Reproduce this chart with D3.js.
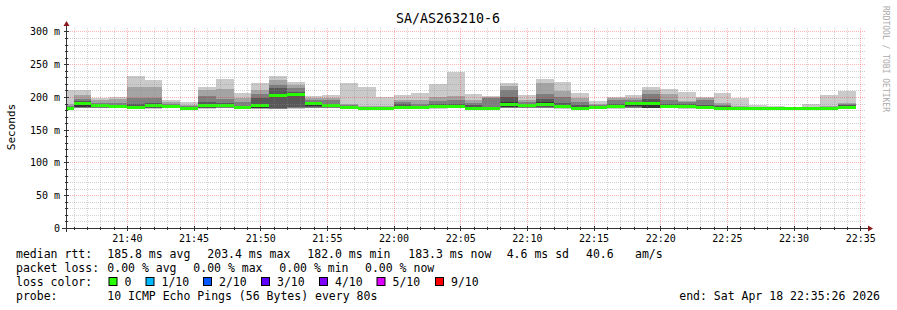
<!DOCTYPE html>
<html lang="en">
<head>
<meta charset="UTF-8">
<title>SA/AS263210-6</title>
<script src="https://cdnjs.cloudflare.com/ajax/libs/d3/7.8.5/d3.min.js"></script>
<style>
  body { margin: 0; background: #fff; }
  svg { display: block; font-family: "DejaVu Sans Mono", monospace; }
</style>
</head>
<body>
<div id="chart"></div>
<script>
// rrd step is 80s, first (partial) step starts before the graph start
const graphStart = "21:35:26";
const graphEnd = "22:35:26";
const firstStep = "21:34:40";
const stepSec = 80;

// median rtt per step (ms)
const medians = [
  183, 190.3, 186.5, 185.3, 184.5, 186.5, 185.5, 182.5, 187.5, 187.5,
  183.5, 186.3, 202, 203.4, 189.5, 187, 184.5, 182, 182.3, 183.2,
  183.8, 185.5, 185.8, 183, 182.6, 188, 186.8, 188, 185.3, 183,
  183.7, 185, 189.5, 190.5, 186, 185.3, 183.2, 182.8, 182.5, 182.4,
  182.3, 182.2, 182.4, 182.5, 183.5
];

// the 10 pings of each step, sorted (ms)
const pings = [
  [181.5, 182, 182, 182.5, 183, 184, 185, 186, 190, 210],
  [182.5, 183, 183.5, 184, 184.5, 191.5, 194, 197, 203.5, 210],
  [182.5, 183, 183.5, 184, 184.5, 187.5, 188.5, 191, 196, 199],
  [182.5, 183, 183.5, 184, 184.2, 186.5, 187.5, 191, 196.5, 200.5],
  [182, 182.5, 183, 183.3, 183.5, 186, 189, 198, 215, 232],
  [182, 182.5, 183, 183.5, 184, 188.5, 191, 198, 215, 226],
  [182.5, 183, 183.5, 184, 184.5, 187, 188, 190, 193, 196],
  [181, 181.2, 181.5, 181.8, 182, 183.5, 184.5, 186, 188, 192],
  [182, 182.5, 183, 183.5, 184, 189.5, 192, 201.5, 211, 215],
  [182.5, 183, 183.5, 184, 185, 189, 191, 197, 212, 227],
  [181.8, 182, 182.2, 182.5, 183, 184.5, 186, 192, 198, 206],
  [182, 182.3, 182.6, 183, 183.5, 190, 198, 205, 211, 221],
  [181.8, 182, 182.3, 182.5, 200, 204, 213, 218, 226, 232],
  [182, 182.5, 183, 184.5, 201, 205, 208, 213, 218, 223],
  [182.5, 183, 183.5, 184, 186, 191, 192.5, 196, 198.5, 201],
  [182.5, 183, 183.5, 184, 185, 188.5, 190, 195, 199, 202.5],
  [182, 182.5, 183, 183.5, 184, 185.5, 186, 187, 190, 221],
  [180.8, 181, 181.3, 181.5, 181.8, 182.5, 183, 184, 186, 215],
  [181, 181.3, 181.5, 181.8, 182, 182.8, 183, 184, 186, 199.5],
  [181.8, 182, 182.2, 182.5, 182.8, 185, 189, 192, 195, 203],
  [181.8, 182, 182.2, 182.5, 183, 185, 186, 190, 196, 206],
  [182, 182.5, 183, 183.5, 184, 187.5, 190, 194, 200, 219.5],
  [182.5, 183, 183.5, 184, 184.5, 187.5, 190, 195, 201, 238.5],
  [181.8, 182, 182.2, 182.5, 182.7, 184, 187, 191, 196, 204],
  [181.4, 181.6, 181.8, 182, 182.3, 183.2, 184, 198, 199.5, 201],
  [182.5, 183, 183.5, 184, 184.5, 193, 200, 210, 217, 221],
  [182.5, 183, 183.5, 184, 185, 188.5, 189.5, 192, 196, 203],
  [182.5, 183, 183.5, 184.5, 185.5, 192, 197, 205, 221, 227],
  [182, 182.5, 183, 183.5, 184, 188, 191, 200, 209, 222.5],
  [181.8, 182, 182.2, 182.4, 182.7, 185, 187, 193, 198, 206],
  [182.2, 182.5, 182.7, 183, 183.2, 184.5, 186, 188, 190, 193.5],
  [182, 182.5, 183, 183.5, 184, 187, 189, 195, 198, 199.5],
  [182.5, 183, 183.5, 184.5, 186, 191.5, 192, 196, 198, 203],
  [182.7, 183, 183.2, 183.3, 183.5, 192.5, 197, 205, 211, 214.5],
  [182.5, 183, 183.5, 184, 184.5, 188, 190, 196, 204, 211.5],
  [182, 182.5, 183, 183.5, 184, 187, 189, 193, 194, 207],
  [181.8, 182, 182.2, 182.5, 182.8, 185, 188, 196, 198.5, 200],
  [181.6, 181.8, 182, 182.3, 182.5, 184, 185.5, 188, 191, 206],
  [181.4, 181.6, 181.8, 182, 182.2, 183, 183.3, 184, 186, 199],
  [181.5, 181.6, 181.8, 182, 182.2, 182.8, 183, 183.5, 184.5, 187.5],
  [181.5, 181.6, 181.8, 182, 182.1, 182.7, 183, 183.3, 184, 186],
  [181.5, 181.6, 181.8, 181.9, 182, 182.5, 182.8, 183, 183.5, 184.5],
  [181.5, 181.6, 181.8, 182, 182.2, 182.8, 183.3, 184, 185, 189],
  [181.5, 181.6, 181.8, 182, 182.2, 182.9, 183.3, 184, 186, 203],
  [182, 182.2, 182.5, 183, 183.5, 186.5, 188, 189.5, 191, 209]
];

const yTicks = [0, 50, 100, 150, 200, 250, 300];
const xTickLabels = ["21:40", "21:45", "21:50", "21:55", "22:00", "22:05",
                     "22:10", "22:15", "22:20", "22:25", "22:30", "22:35"];

const lossLabels = ["0", "1/10", "2/10", "3/10", "4/10", "5/10", "9/10"];
const lossColors = ["#26ff00", "#00b8ff", "#0059ff", "#5e00ff", "#7e00ff", "#dd00ff", "#ff0000"];

const rttStats = ["185.8 ms avg", "203.4 ms max", "182.0 ms min", "183.3 ms now", "4.6 ms sd", "40.6", "am/s"];
const lossStats = ["0.00 % avg", "0.00 % max", "0.00 % min", "0.00 % now"];

const W = 897, H = 310;
const plotL = 66, plotR = 866, plotT = 28, plotB = 228;

const parse = d3.timeParse("%H:%M:%S");
const x = d3.scaleTime().domain([parse(graphStart), parse(graphEnd)]).range([plotL, plotR]);
const y = d3.scaleLinear().domain([0, 305.3]).range([plotB, plotT]);

const svg = d3.select("#chart").append("svg")
  .attr("width", W).attr("height", H);

svg.append("rect").attr("width", W).attr("height", H).attr("fill", "#fff");

svg.append("clipPath").attr("id", "plot")
  .append("rect").attr("x", plotL).attr("y", plotT).attr("width", plotR - plotL).attr("height", plotB - plotT);

// smoke: band i spans ping i .. ping (n-1-i), lighter outside
const shades = [202, 164, 126, 88, 50];
const t0 = parse(firstStep);
const steps = pings.map((p, i) => {
  const a = d3.timeSecond.offset(t0, i * stepSec);
  const b = d3.timeSecond.offset(t0, (i + 1) * stepSec);
  return { x0: x(a), x1: x(b), p: p, med: medians[i] };
});

const g = svg.append("g").attr("clip-path", "url(#plot)").attr("shape-rendering", "crispEdges");

shades.forEach((s, i) => {
  g.selectAll(null).data(steps).enter().append("rect")
    .attr("x", d => d.x0)
    .attr("width", d => d.x1 - d.x0)
    .attr("y", d => y(d.p[9 - i]))
    .attr("height", d => y(d.p[i]) - y(d.p[9 - i]))
    .attr("fill", d3.rgb(s, s, s));
});

// median, 0 loss colour
g.selectAll(null).data(steps).enter().append("rect")
  .attr("x", d => d.x0)
  .attr("width", d => d.x1 - d.x0)
  .attr("y", d => y(d.med) - 1.5)
  .attr("height", 3)
  .attr("fill", lossColors[0]);

// grid
const grid = svg.append("g").attr("shape-rendering", "crispEdges");
const minorY = d3.range(0, 301, 10).filter(v => v % 50 !== 0);
const minutes = d3.timeMinute.every(1).range(x.domain()[0], x.domain()[1]);
const minorX = minutes.filter(t => t.getMinutes() % 5 !== 0);
const majorX = minutes.filter(t => t.getMinutes() % 5 === 0);

grid.selectAll(null).data(minorY).enter().append("line")
  .attr("x1", plotL).attr("x2", plotR)
  .attr("y1", d => Math.round(y(d)) + 0.5).attr("y2", d => Math.round(y(d)) + 0.5)
  .attr("stroke", "rgba(143,143,143,0.4)").attr("stroke-dasharray", "1,1");
grid.selectAll(null).data(minorX).enter().append("line")
  .attr("x1", d => Math.round(x(d)) + 0.5).attr("x2", d => Math.round(x(d)) + 0.5)
  .attr("y1", plotT).attr("y2", plotB)
  .attr("stroke", "rgba(143,143,143,0.4)").attr("stroke-dasharray", "1,1");
grid.selectAll(null).data(yTicks.slice(1)).enter().append("line")
  .attr("x1", plotL).attr("x2", plotR)
  .attr("y1", d => Math.round(y(d)) + 0.5).attr("y2", d => Math.round(y(d)) + 0.5)
  .attr("stroke", "rgba(255,0,0,0.3)").attr("stroke-dasharray", "1,1");
grid.selectAll(null).data(majorX).enter().append("line")
  .attr("x1", d => Math.round(x(d)) + 0.5).attr("x2", d => Math.round(x(d)) + 0.5)
  .attr("y1", plotT).attr("y2", plotB)
  .attr("stroke", "rgba(255,0,0,0.3)").attr("stroke-dasharray", "1,1");

// axes
const axisColor = "#333";
const ax = svg.append("g").attr("shape-rendering", "crispEdges").attr("stroke", axisColor);
ax.append("line").attr("x1", plotL - 4).attr("x2", plotR + 4).attr("y1", plotB + 0.5).attr("y2", plotB + 0.5);
ax.append("line").attr("x1", plotL + 0.5).attr("x2", plotL + 0.5).attr("y1", plotB + 4).attr("y2", plotT - 3);
ax.selectAll(null).data(minorY).enter().append("line")
  .attr("x1", plotL - 1).attr("x2", plotL + 2)
  .attr("y1", d => Math.round(y(d)) + 0.5).attr("y2", d => Math.round(y(d)) + 0.5);
ax.selectAll(null).data(yTicks).enter().append("line")
  .attr("x1", plotL - 2).attr("x2", plotL + 3)
  .attr("y1", d => Math.round(y(d)) + 0.5).attr("y2", d => Math.round(y(d)) + 0.5);
ax.selectAll(null).data(minorX).enter().append("line")
  .attr("x1", d => Math.round(x(d)) + 0.5).attr("x2", d => Math.round(x(d)) + 0.5)
  .attr("y1", plotB - 1).attr("y2", plotB + 2);
ax.selectAll(null).data(majorX).enter().append("line")
  .attr("x1", d => Math.round(x(d)) + 0.5).attr("x2", d => Math.round(x(d)) + 0.5)
  .attr("y1", plotB - 2).attr("y2", plotB + 3);

const arrowColor = "#8b1a1a";
svg.append("path")
  .attr("d", `M${plotL - 2.5},${plotT - 2}L${plotL + 3.5},${plotT - 2}L${plotL + 0.5},${plotT - 7}Z`)
  .attr("fill", arrowColor);
svg.append("path")
  .attr("d", `M${plotR + 2},${plotB - 2.5}L${plotR + 2},${plotB + 3.5}L${plotR + 7},${plotB + 0.5}Z`)
  .attr("fill", arrowColor);

// tick labels
svg.selectAll(null).data(yTicks).enter().append("text")
  .attr("x", 60).attr("y", d => y(d) + 4)
  .attr("text-anchor", "end").attr("font-size", "10px")
  .text(d => d === 0 ? "0" : d + " m");

svg.selectAll(null).data(xTickLabels).enter().append("text")
  .attr("x", d => x(parse(d + ":00")) + 0.5).attr("y", 242)
  .attr("text-anchor", "middle").attr("font-size", "10px")
  .text(d => d);

// title, axis label, watermark
svg.append("text").attr("x", 448).attr("y", 23).attr("text-anchor", "middle")
  .attr("font-size", "13.3px").text("SA/AS263210-6");
svg.append("text").attr("transform", "translate(15,127) rotate(-90)")
  .attr("text-anchor", "middle").attr("font-size", "11px").text("Seconds");
svg.append("text").attr("transform", "translate(883,59) rotate(90)")
  .attr("text-anchor", "middle").attr("font-size", "8px").attr("fill", "#aaa")
  .text("RRDTOOL / TOBI OETIKER");

// legend
const fs = "11.5px";
const leg = svg.append("g").attr("font-size", fs).attr("xml:space", "preserve");
const row = [258, 272, 286, 300];
leg.append("text").attr("x", 16).attr("y", row[0]).text("median rtt:");
[107.3, 207.3, 307.3, 408.3, 506.7, 586, 635].forEach((px, i) =>
  leg.append("text").attr("x", px).attr("y", row[0]).text(rttStats[i]));
leg.append("text").attr("x", 16).attr("y", row[1]).text("packet loss:");
[107.3, 193.3, 279.3, 365].forEach((px, i) =>
  leg.append("text").attr("x", px).attr("y", row[1]).text(lossStats[i]));
leg.append("text").attr("x", 16).attr("y", row[2]).text("loss color:");
const boxX = [108.5, 145.5, 203, 261, 319, 376.5, 435];
lossLabels.forEach((l, i) => {
  leg.append("rect").attr("x", boxX[i] + 0.5).attr("y", 277.5).attr("width", 8).attr("height", 8)
    .attr("fill", lossColors[i]).attr("stroke", "#000");
  leg.append("text").attr("x", boxX[i] + 16).attr("y", row[2]).text(l);
});
leg.append("text").attr("x", 16).attr("y", row[3]).text("probe:");
leg.append("text").attr("x", 107.3).attr("y", row[3]).text("10 ICMP Echo Pings (56 Bytes) every 80s");
leg.append("text").attr("x", 880).attr("y", row[3]).attr("text-anchor", "end").text("end: Sat Apr 18 22:35:26 2026");
</script>
</body>
</html>
